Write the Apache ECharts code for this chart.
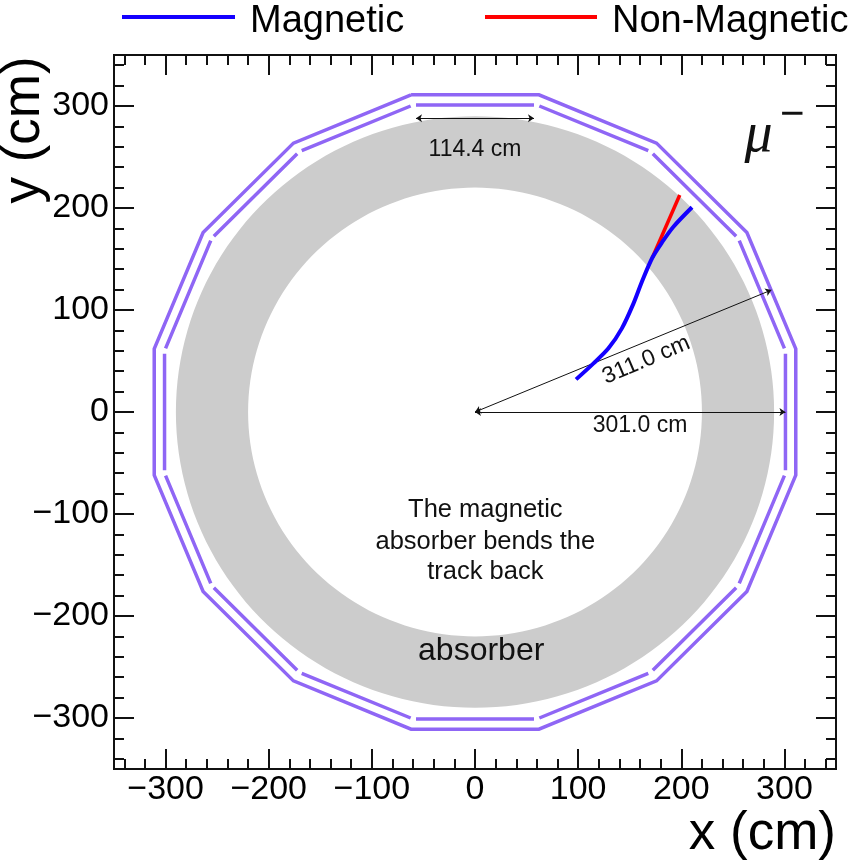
<!DOCTYPE html>
<html><head><meta charset="utf-8">
<style>html,body{margin:0;padding:0;background:#fff}#c{width:859px;height:864px}</style>
<script src="https://cdn.jsdelivr.net/npm/echarts@6/dist/echarts.min.js"></script></head>
<body><div id="c"></div>
<script>
const majorTicks = [-300,-200,-100,0,100,200,300];
const minorTicks = [-340,-320,-280,-260,-240,-220,-180,-160,-140,-120,-80,-60,-40,-20,20,40,60,80,120,140,160,180,220,240,260,280,320,340];
const absorberRadii = [290, 220];
const outerShellX = [-62,62,176,263.6,311,311,263.6,176,62,-62,-176,-263.6,-311,-311,-263.6,-176,-62];
const outerShellY = [311,311,263.6,176,62,-62,-176,-263.6,-311,-311,-263.6,-176,-62,62,176,263.6,311];
const innerStaves = [
 [-57.2,301,57.2,301],[62.4,300,168,256.2],[172.4,253.2,253.2,172.4],[256.2,168,300,62.4],
 [301,57.2,301,-57.2],[300,-62.4,256.2,-168],[253.2,-172.4,172.4,-253.2],[168,-256.2,62.4,-300],
 [57.2,-301,-57.2,-301],[-62.4,-300,-168,-256.2],[-172.4,-253.2,-253.2,-172.4],[-256.2,-168,-300,-62.4],
 [-301,-57.2,-301,57.2],[-300,62.4,-256.2,168],[-253.2,172.4,-172.4,253.2],[-168,256.2,-62.4,300]];
const magneticX = [98,114.9,129.4,142.4,153.7,161.8,171.8,181.6,192.2,210.4];
const magneticY = [32,47.7,62.4,82,106.5,127.7,151,166.7,181.4,200.7];
const nonMagneticX = [171.8,198.5];
const nonMagneticY = [151,212.7];
const dimensions = [[-57.2,288,57.2,288],[0,0,301,0],[0,0,287.4,119.6]];
const annotationText = ['114.4 cm','301.0 cm','311.0 cm','The magnetic','absorber bends the','track back','absorber'];
const annotationX = [0,160,166,10,10,10,6];
const annotationY = [257,-13,51,-96,-127,-157,-234];
const annotationSize = [23,23,23,25.5,25.5,25.5,32];
const annotationRotation = [0,0,23,0,0,0,0];

const FONT = '"Liberation Sans", Arial, sans-serif';
const LEGEND_ICON = 'path://M0,0H113V4H0Z M0,14L113,14';
const chart = echarts.init(document.getElementById('c'));
function axis(position, values, len, labels) {
  const isX = position === 'top' || position === 'bottom';
  return {
    type:'value', position, min:-350, max:350, interval:100,
    splitLine:{show:false},
    axisLine:{show:true, onZero:false, lineStyle:{color:'#111',width:2}},
    axisTick:{show:true, inside:true, length:len, customValues:values, lineStyle:{color:'#111',width:2}},
    axisLabel: labels ? {show:true, customValues:values, color:'#000', fontFamily:FONT, fontSize:34, margin:isX?4:5,
      padding:isX?0:[4,0,0,0], hideOverlap:false, formatter:v=>String(v).replace('-','\u2212')} : {show:false}
  };
}
function toPairs(xs,ys){return xs.map((x,i)=>[x,ys[i]]);}
const staveData=[];
innerStaves.forEach(s=>{staveData.push([s[0],s[1]],[s[2],s[3]],['-','-']);});

const option = {
  animation:false,
  grid:{left:114,right:23,top:55,bottom:95,containLabel:false},
  legend:[
   {data:['Magnetic'],left:117,top:-2,itemWidth:113,itemHeight:14,icon:LEGEND_ICON,
    textStyle:{fontFamily:FONT,fontSize:38,color:'#000',padding:[0,0,0,10]}},
   {data:['Non-Magnetic'],left:480,top:-2,itemWidth:112,itemHeight:14,icon:LEGEND_ICON,
    textStyle:{fontFamily:FONT,fontSize:38,color:'#000',padding:[0,0,0,10]}}
  ],
  xAxis:[axis('bottom',majorTicks,20,true),axis('bottom',minorTicks,10,false),axis('top',majorTicks,20,false),axis('top',minorTicks,10,false)],
  yAxis:[axis('left',majorTicks,20,true),axis('left',minorTicks,10,false),axis('right',majorTicks,20,false),axis('right',minorTicks,10,false)],
  title:[
   {text:'x (cm)',right:23,top:808,textStyle:{fontFamily:FONT,fontSize:53,fontWeight:'normal',color:'#000'},padding:0}
  ],
  graphic:[
   {type:'text',x:24,y:130,rotation:Math.PI/2,style:{text:'y (cm)',font:'53px '+FONT,fill:'#000',align:'center',verticalAlign:'middle'},z:10}
  ],
  series:[
   {type:'custom',coordinateSystem:'cartesian2d',silent:true,z:1,clip:false,
    data:[absorberRadii],encode:{x:0,y:1},
    renderItem(params,api){
      const R=absorberRadii[0],r=absorberRadii[1],pts=[];
      for(let i=0;i<=180;i++){const a=i*Math.PI/90;pts.push(api.coord([R*Math.cos(a),R*Math.sin(a)]));}
      for(let i=180;i>=0;i--){const a=i*Math.PI/90;pts.push(api.coord([r*Math.cos(a),r*Math.sin(a)]));}
      return {type:'polygon',shape:{points:pts},style:{fill:'#cccccc',stroke:null}};
    }},
   {type:'line',name:'Outer shell',data:toPairs(outerShellX,outerShellY),showSymbol:false,symbol:'none',z:2,
    lineStyle:{color:'#8f66f5',width:3.5,join:'miter'},silent:true},
   {type:'line',name:'Inner staves',data:staveData,showSymbol:false,symbol:'none',z:2,connectNulls:false,
    lineStyle:{color:'#8f66f5',width:3.5,cap:'butt'},silent:true},
   {type:'lines',coordinateSystem:'cartesian2d',z:3,silent:true,symbol:['arrow','arrow'],symbolSize:6,
    data:dimensions.map(d=>({coords:[[d[0],d[1]],[d[2],d[3]]]})),
    lineStyle:{color:'#111',width:1,opacity:1,curveness:0}},
   {type:'line',name:'Non-Magnetic',data:toPairs(nonMagneticX,nonMagneticY),symbol:'none',z:4,
    itemStyle:{color:'#ff0000'},lineStyle:{color:'#ff0000',width:3.5}},
   {type:'line',name:'Magnetic',data:toPairs(magneticX,magneticY),symbol:'none',smooth:0.3,z:5,
    itemStyle:{color:'#1400ff'},lineStyle:{color:'#1400ff',width:4}},
   {type:'custom',coordinateSystem:'cartesian2d',silent:true,z:6,clip:false,
    data:annotationText.map((t,i)=>[annotationX[i],annotationY[i],i]),encode:{x:0,y:1},
    renderItem(params,api){
      const i=api.value(2),p=api.coord([api.value(0),api.value(1)]);
      return {type:'text',x:p[0],y:p[1],rotation:annotationRotation[i]*Math.PI/180,
        style:{text:annotationText[i],font:annotationSize[i]+'px '+FONT,fill:'#111',align:'center',verticalAlign:'middle'}};
    }},
   {type:'custom',coordinateSystem:'cartesian2d',silent:true,z:6,clip:false,
    data:[[275,270]],encode:{x:0,y:1},
    renderItem(params,api){
      const p=api.coord([api.value(0),api.value(1)]);
      return {type:'group',children:[
        {type:'text',x:p[0],y:p[1],style:{text:'\u03bc',font:'italic 56px "Liberation Serif", serif',fill:'#111',align:'center',verticalAlign:'middle'}},
        {type:'text',x:p[0]+33.5,y:p[1]-21,style:{text:'\u2212',font:'42px '+FONT,fill:'#111',align:'center',verticalAlign:'middle'}}
      ]};
    }}
  ]
};
chart.setOption(option);
</script></body></html>
